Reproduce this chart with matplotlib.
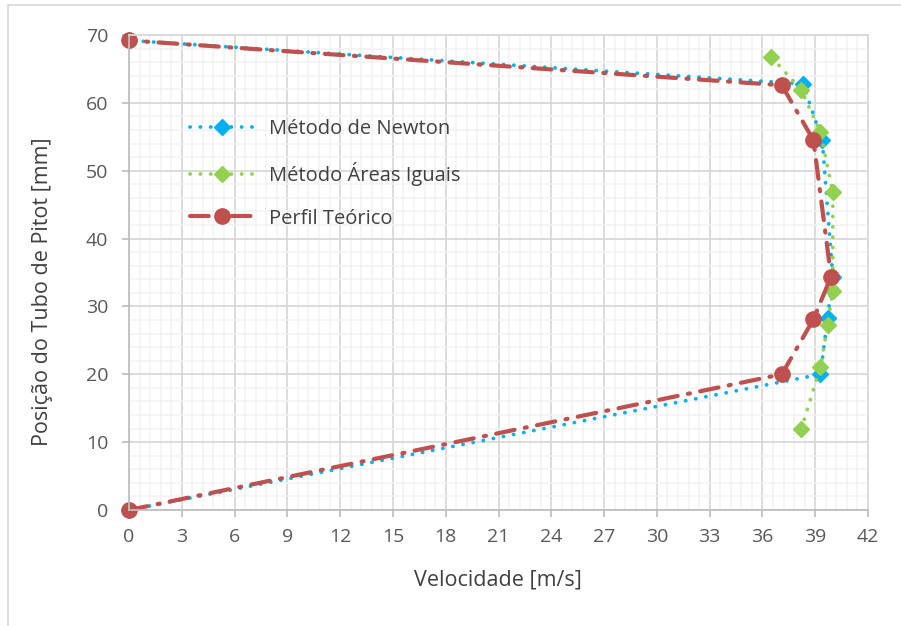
import matplotlib
matplotlib.use("Agg")
import matplotlib.pyplot as plt
from matplotlib.ticker import MultipleLocator
from matplotlib.patches import Rectangle

# dados
newton_vel = [0, 39.3, 39.7, 40.0, 39.4, 38.3, 0]
newton_pos = [0, 20.0, 28.3, 34.4, 54.5, 62.8, 69.2]

areas_vel = [38.2, 39.3, 39.7, 40.0, 40.0, 39.3, 38.2, 36.5]
areas_pos = [11.9, 21.1, 27.3, 32.3, 46.8, 55.7, 61.9, 66.8]

teorico_vel = [0, 37.1, 38.9, 39.9, 38.9, 37.1, 0]
teorico_pos = [0, 20.0, 28.1, 34.4, 54.5, 62.6, 69.2]

labels = ["Método de Newton", "Método Áreas Iguais", "Perfil Teórico"]

plt.rcParams['font.family'] = ['Open Sans', 'DejaVu Sans']

fig = plt.figure(figsize=(9.01, 6.26), dpi=100)
ax = fig.add_axes([129/901, 1 - 510/626, 739/901, 475/626])

# borda do gráfico (só topo e esquerda visíveis)
fig.patches.append(Rectangle((8/901, -0.1), 1.2, 1 - 5/626 + 0.1, transform=fig.transFigure,
                             fill=False, edgecolor='#D9D9D9', linewidth=1.2))

ax.plot(newton_vel, newton_pos, color='#00B0F0', linewidth=2.7,
        linestyle=(0, (0.05, 2.7)), dash_capstyle='round',
        marker='D', markersize=8, label=labels[0], clip_on=False)
ax.plot(areas_vel, areas_pos, color='#92D050', linewidth=2.7,
        linestyle=(0, (0.05, 2.7)), dash_capstyle='round',
        marker='D', markersize=8, label=labels[1], clip_on=False)
ax.plot(teorico_vel, teorico_pos, color='#C0504D', linewidth=3,
        linestyle=(0, (4.5, 2.5, 0.5, 2.5)), dash_capstyle='round',
        marker='o', markersize=11, label=labels[2], clip_on=False)

ax.set_xlim(0, 42)
ax.set_ylim(0, 70)
ax.xaxis.set_major_locator(MultipleLocator(3))
ax.xaxis.set_minor_locator(MultipleLocator(0.6))
ax.yaxis.set_major_locator(MultipleLocator(10))
ax.yaxis.set_minor_locator(MultipleLocator(2))

ax.grid(which='major', color='#D9D9D9', linewidth=1.3)
ax.grid(which='minor', color='#F2F2F2', linewidth=1.1)
ax.set_axisbelow(True)

for s in ['top', 'right']:
    ax.spines[s].set_color('#D9D9D9')
    ax.spines[s].set_linewidth(1.3)
for s in ['left', 'bottom']:
    ax.spines[s].set_color('#BFBFBF')
    ax.spines[s].set_linewidth(1.3)

ax.tick_params(which='major', direction='out', length=5, width=1.3, color='#BFBFBF',
               labelsize=14, labelcolor='#595959')
ax.tick_params(axis='x', pad=8)
ax.tick_params(axis='y', pad=10)
ax.tick_params(which='minor', length=0)

ax.set_xlabel('Velocidade [m/s]', fontsize=15.5, color='#404040')
ax.set_ylabel('Posição do Tubo de Pitot [mm]', fontsize=15.5, color='#404040')
ax.xaxis.set_label_coords(0.499, -0.147)
ax.xaxis.label.set_va('center')
ax.yaxis.set_label_coords(-0.1177, 0.46)
ax.yaxis.label.set_va('center')

leg = ax.legend(loc='upper left', bbox_to_anchor=((190-129)/739, (510-119)/475),
                frameon=False, fontsize=14.5, handlelength=3.2, handletextpad=0.7,
                labelspacing=1.13, borderaxespad=0, borderpad=0, numpoints=1)
for t in leg.get_texts():
    t.set_color('#404040')

fig.savefig('out.png', dpi=100)
